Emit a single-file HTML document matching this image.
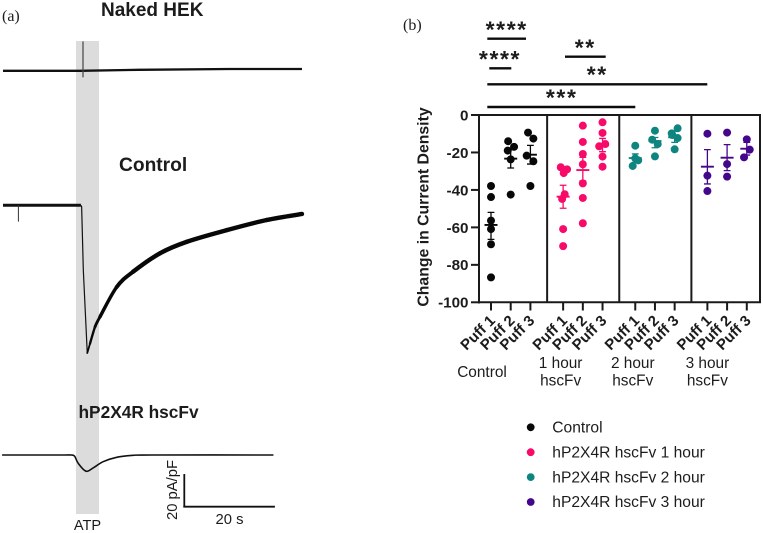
<!DOCTYPE html>
<html lang="en">
<head>
<meta charset="utf-8">
<title>Current density recordings</title>
<style>
html,body{margin:0;padding:0;background:#fff;width:763px;height:533px;overflow:hidden}
svg{display:block;font-family:"Liberation Sans",Arial,sans-serif}
text{fill:#1c1c1c}
</style>
</head>
<body>
<svg id="fig" width="763" height="533" viewBox="0 0 763 533" xmlns="http://www.w3.org/2000/svg">
  <rect width="763" height="533" fill="#fff"/>
  <g id="panelA">
    <text x="2" y="21" font-family="Liberation Serif" font-size="16">(a)</text>
    <rect x="76" y="41" width="23" height="473" fill="#dcdcdc"/>
    <text x="101" y="16" font-size="19" font-weight="bold">Naked HEK</text>
    <text x="119" y="171" font-size="19.2" font-weight="bold">Control</text>
    <text x="78.5" y="418" font-size="17.3" font-weight="bold">hP2X4R hscFv</text>
    <text x="87.5" y="530" font-size="14.6" text-anchor="middle">ATP</text>
    <text x="229.5" y="524" font-size="14.8" text-anchor="middle">20 s</text>
    <text transform="translate(177,490) rotate(-90)" font-size="14.8" text-anchor="middle">20 pA/pF</text>
  </g>
  <g id="panelB">
    <text x="403" y="30" font-family="Liberation Serif" font-size="16">(b)</text>
    <text transform="translate(428.5,207) rotate(-90)" font-size="15.8" font-weight="bold" text-anchor="middle">Change in Current Density</text>
  </g>
</svg>
<script>
/* ---------- Panel (a) trace data: time in s, current in pA/pF ---------- */
const nakedTime = [0, 8, 17, 30, 50, 66];
const nakedCurrent = [0, 0, 0, 0.6, 1.1, 1.1];
const nakedArtifactTime = [17.66];
const nakedArtifactRange = [18, -4];

const controlBaseTime = [0, 17.2];
const controlBaseCurrent = [0, 0];
const controlArtifactTime = [3.4];
const controlArtifactRange = [0, -10];
const controlDropTime = [17.2, 17.36, 17.73, 18.6];
const controlDropCurrent = [0, -0.9, -39.7, -90.4];
const controlRiseTime = [18.6, 19.2, 20.3, 21.4, 25.1, 28.7, 34.7, 40.6, 49.4, 58.2, 66];
const controlRiseCurrent = [-90.4, -84.7, -74.5, -68.3, -50, -40.7, -29.3, -22.3, -15.2, -9, -5.3];

const scfvTime = [-0.2, 13, 15, 15.8, 16.6, 18.3, 19.9, 22.1, 25.1, 28.7, 33, 59.7];
const scfvCurrent = [0, 0, 0, -0.7, -5.1, -9.9, -7.9, -4.1, -1.4, -0.2, 0, 0];

const scaleBarSeconds = [20];
const scaleBarCurrent = [20];

/* ---------- Panel (b) data ---------- */
const yTicks = [0, -20, -40, -60, -80, -100];
const puffLabels = ['Puff 1', 'Puff 2', 'Puff 3'];

const controlValues = [[-37.9, -43.8, -56.4, -60.9, -69, -86.7], [-14, -17, -19, -23.7, -42.5], [-9.4, -12.6, -21.7, -24.7, -37.9]];
const controlJitter = [[0, 0, 0, 0, 0, 0], [-0.13, 0.17, -0.15, 0, 0], [-0.12, 0.15, -0.19, 0.15, 0]];
const controlMeans = [-58.7, -23.3, -21.2];
const controlUpper = [-52, -18.5, -16.2];
const controlLower = [-66.4, -28.3, -26.2];

const hour1Values = [[-27.9, -29, -31, -42.3, -44.8, -60.9, -70], [-5.7, -14.4, -20.8, -26.3, -36.5, -44.3, -57.8], [-3.9, -9.6, -16.7, -15.5, -22.2, -27.6]];
const hour1Jitter = [[-0.12, 0.2, 0.03, 0.08, -0.05, 0, 0], [0, 0, 0, 0, 0, 0, 0], [0, 0, -0.17, 0.14, 0, 0]];
const hour1Means = [-43.6, -29.4, -16.2];
const hour1Upper = [-37.5, -22.6, -12.5];
const hour1Lower = [-49.8, -35.2, -19.6];

const hour2Values = [[-16.4, -23.1, -24.2, -27.2], [-8.4, -13.2, -15.5, -22.1], [-7.1, -9.8, -10.7, -12.3, -18.3]];
const hour2Jitter = [[0, 0, 0.15, -0.13], [0, -0.14, 0.14, 0], [0.15, -0.15, -0.12, 0.15, 0]];
const hour2Means = [-23, -13.9, -11.9];
const hour2Upper = [-20.8, -12, -8.5];
const hour2Lower = [-25.3, -17.5, -14.6];

const hour3Values = [[-10, -32.4, -40.6], [-9.4, -26.2, -32.9], [-13, -18.5, -22.6]];
const hour3Jitter = [[0, 0, 0], [0, 0, 0], [0, 0.15, -0.14]];
const hour3Means = [-27.6, -22.8, -18];
const hour3Upper = [-18.5, -15.8, -14.6];
const hour3Lower = [-36.8, -29.7, -21.4];

const groupNames = ['control', 'hour-1', 'hour-2', 'hour-3'];
const groupColors = ['#080808', '#f70a68', '#0f8580', '#44078c'];
const legendLabels = ['Control', 'hP2X4R hscFv 1 hour', 'hP2X4R hscFv 2 hour', 'hP2X4R hscFv 3 hour'];

/* group labels: first and optional second line */
const groupLine1 = ['Control', '1 hour', '2 hour', '3 hour'];
const groupLine2 = ['', 'hscFv', 'hscFv', 'hscFv'];

const sigStars = ['****', '****', '**', '**', '***'];

/* ---------- Helpers ---------- */
const NS = 'http://www.w3.org/2000/svg';
const panelA = document.getElementById('panelA');
const panelB = document.getElementById('panelB');

function make(tag, parent, attrs) {
  const el = document.createElementNS(NS, tag);
  for (const k in attrs) el.setAttribute(k, attrs[k]);
  parent.appendChild(el);
  return el;
}

/* Axis functions */
const tScale = t => 3 + t * 4.53;
const iScale = (base, i) => base - i * 1.634;
const yScale = v => 115 - v * 1.873;
const xScale = (group, puff, jitter) => 491 + group * 72.13 + (puff + (jitter || 0)) * 19.7;

function pathFrom(ts, is, base) {
  return ts.map((t, k) => (k ? 'L' : 'M') + tScale(t).toFixed(2) + ' ' + iScale(base, is[k]).toFixed(2)).join(' ');
}

function smoothSegments(ts, is, base) {
  const p = ts.map((t, k) => [tScale(t), iScale(base, is[k])]);
  const out = [];
  for (let k = 0; k < p.length - 1; k++) {
    const a = p[Math.max(k - 1, 0)], b = p[k], c = p[k + 1], e = p[Math.min(k + 2, p.length - 1)];
    out.push('M' + b[0].toFixed(2) + ' ' + b[1].toFixed(2) + ' C' + (b[0] + (c[0] - a[0]) / 6).toFixed(2) + ' ' + (b[1] + (c[1] - a[1]) / 6).toFixed(2) + ' ' +
      (c[0] - (e[0] - b[0]) / 6).toFixed(2) + ' ' + (c[1] - (e[1] - b[1]) / 6).toFixed(2) + ' ' +
      c[0].toFixed(2) + ' ' + c[1].toFixed(2));
  }
  return out;
}

function smoothFrom(ts, is, base) {
  return smoothSegments(ts, is, base).map((s, k) => k ? s.replace(/^M[^C]*/, '') : s).join(' ');
}

const BASE_NAKED = 70.8, BASE_CONTROL = 205.3, BASE_SCFV = 455;

/* ---------- Panel (a) ---------- */
const nakedTrace = make('path', panelA, {d: pathFrom(nakedTime, nakedCurrent, BASE_NAKED), fill: 'none', stroke: '#111', 'stroke-width': 2.3});



const nakedArtifact = make('line', panelA, {x1: tScale(nakedArtifactTime[0]), x2: tScale(nakedArtifactTime[0]), y1: iScale(BASE_NAKED, nakedArtifactRange[0]), y2: iScale(BASE_NAKED, nakedArtifactRange[1]), stroke: '#444', 'stroke-width': 1.2});



const ctlBase = make('path', panelA, {d: pathFrom(controlBaseTime, controlBaseCurrent, BASE_CONTROL), fill: 'none', stroke: '#111', 'stroke-width': 3});



const ctlArtifact = make('line', panelA, {x1: tScale(controlArtifactTime[0]), x2: tScale(controlArtifactTime[0]), y1: iScale(BASE_CONTROL, controlArtifactRange[0]), y2: iScale(BASE_CONTROL, controlArtifactRange[1]), stroke: '#333', 'stroke-width': 1});



const ctlDrop = make('path', panelA, {d: pathFrom(controlDropTime, controlDropCurrent, BASE_CONTROL), fill: 'none', stroke: '#111', 'stroke-width': 1.2});



smoothSegments(controlRiseTime, controlRiseCurrent, BASE_CONTROL).forEach((d, k) => {
  const seg = make('path', panelA, {d: d, fill: 'none', stroke: '#080808', 'stroke-linecap': 'round', 'stroke-width': Math.min(4.4, 1.8 + k * 0.55)});
  
  
});

const scfvTrace = make('path', panelA, {d: smoothFrom(scfvTime, scfvCurrent, BASE_SCFV), fill: 'none', stroke: '#111', 'stroke-width': 1.6});



const barX0 = 184.3, barY0 = 506.7;
const timeBar = make('line', panelA, {x1: barX0 - 1, x2: barX0 + scaleBarSeconds[0] * 4.53, y1: barY0, y2: barY0, stroke: '#111', 'stroke-width': 1.8});



const currentBar = make('line', panelA, {x1: barX0, x2: barX0, y1: barY0, y2: barY0 - scaleBarCurrent[0] * 1.634, stroke: '#111', 'stroke-width': 1.8});



/* ---------- Panel (b) axes ---------- */
const AX = '#1a1a1a';
const yAxisLine = make('line', panelB, {x1: 479, x2: 479, y1: 114, y2: 303.5, stroke: AX, 'stroke-width': 2});



const xAxisLine = make('line', panelB, {x1: 479, x2: 761, y1: yScale(-100), y2: yScale(-100), stroke: AX, 'stroke-width': 2});



const topLine = make('line', panelB, {x1: 479, x2: 761, y1: yScale(0), y2: yScale(0), stroke: AX, 'stroke-width': 2});



[1, 2, 3, 4].forEach(g => {
  const x = g === 4 ? 760 : xScale(g, 0) - 16;
  const div = make('line', panelB, {x1: x, x2: x, y1: yScale(0), y2: yScale(-100), stroke: AX, 'stroke-width': 2});
  
  
});

yTicks.forEach(v => {
  const tick = make('line', panelB, {x1: 471, x2: 479, y1: yScale(v), y2: yScale(v), stroke: AX, 'stroke-width': 2});
  
  
  const label = make('text', panelB, {x: 468.5, y: yScale(v) + 5.4, 'text-anchor': 'end', 'font-size': 15.2, 'font-weight': 'bold'});
  
  
  label.textContent = String(v);
});

groupNames.forEach((name, g) => {
  puffLabels.forEach((p, i) => {
    const x = xScale(g, i);
    const tick = make('line', panelB, {x1: x, x2: x, y1: yScale(-100), y2: 310.5, stroke: AX, 'stroke-width': 2});
    
    
    const label = make('text', panelB, {transform: 'translate(' + (x + 5) + ',321.5) rotate(-45)', 'text-anchor': 'end', 'font-size': 15, 'font-weight': 'bold'});
    
    
    label.textContent = p;
  });
  const cx = g === 0 ? xScale(0, 0) - 9 : xScale(g, 0) - (g === 3 ? 0 : 2.5);
  const hasTwo = groupLine2[g] !== '';
  const l1 = make('text', panelB, {x: cx, y: hasTwo ? 368 : 377, 'text-anchor': 'middle', 'font-size': 15.4});
  
  
  l1.textContent = groupLine1[g];
  if (hasTwo) {
    const l2 = make('text', panelB, {x: cx, y: 385.5, 'text-anchor': 'middle', 'font-size': 15.4});
    
    
    l2.textContent = groupLine2[g];
  }
});

/* ---------- Panel (b) series ---------- */
function drawGroup(g, values, jitter, means, upper, lower) {
  const color = groupColors[g];
  values.forEach((vals, p) => {
    const cx = xScale(g, p);
    vals.forEach((v, k) => {
      const dot = make('circle', panelB, {cx: xScale(g, p, jitter[p][k]), cy: yScale(v), r: 4, fill: color});
      
      
    });
    const err = make('path', panelB, {
      d: 'M' + (cx - 3.4) + ' ' + yScale(upper[p]) + ' H' + (cx + 3.4) + ' M' + cx + ' ' + yScale(upper[p]) + ' V' + yScale(lower[p]) + ' M' + (cx - 3.4) + ' ' + yScale(lower[p]) + ' H' + (cx + 3.4),
      fill: 'none', stroke: color, 'stroke-width': 1.3
    });
    
    
    const mean = make('line', panelB, {x1: cx - 6.5, x2: cx + 6.5, y1: yScale(means[p]), y2: yScale(means[p]), stroke: color, 'stroke-width': 1.9});
    
    
  });
}
drawGroup(0, controlValues, controlJitter, controlMeans, controlUpper, controlLower);
drawGroup(1, hour1Values, hour1Jitter, hour1Means, hour1Upper, hour1Lower);
drawGroup(2, hour2Values, hour2Jitter, hour2Means, hour2Upper, hour2Lower);
drawGroup(3, hour3Values, hour3Jitter, hour3Means, hour3Upper, hour3Lower);

/* ---------- Significance brackets (figure annotation layout) ---------- */
const sigBars = [
  {x1: 487.3, x2: 526, y: 38.7, sx: 506.7, sy: 26.7},
  {x1: 489.3, x2: 511.3, y: 68.3, sx: 500, sy: 56},
  {x1: 565, x2: 605.7, y: 56.7, sx: 585.3, sy: 44.3},
  {x1: 487.3, x2: 707.3, y: 84.3, sx: 597.3, sy: 71.7},
  {x1: 487.3, x2: 635.3, y: 107, sx: 561.7, sy: 94.3}
];
sigBars.forEach((b, i) => {
  const bar = make('line', panelB, {x1: b.x1, x2: b.x2, y1: b.y, y2: b.y, stroke: '#0c0c0c', 'stroke-width': 2.4});
  
  
  const stars = make('text', panelB, {x: b.sx, y: b.sy + 11, 'text-anchor': 'middle', 'font-size': 23, 'font-weight': 'bold', 'letter-spacing': 1.6});
  
  
  stars.textContent = sigStars[i];
});

/* ---------- Legend ---------- */
legendLabels.forEach((label, i) => {
  const y = 427.3 + i * 24.9;
  const dot = make('circle', panelB, {cx: 530.7, cy: y, r: 3.9, fill: groupColors[i]});
  
  
  const text = make('text', panelB, {x: 552.3, y: y + 5.2, 'font-size': 15.6});
  
  
  text.textContent = label;
});
</script>
</body>
</html>
